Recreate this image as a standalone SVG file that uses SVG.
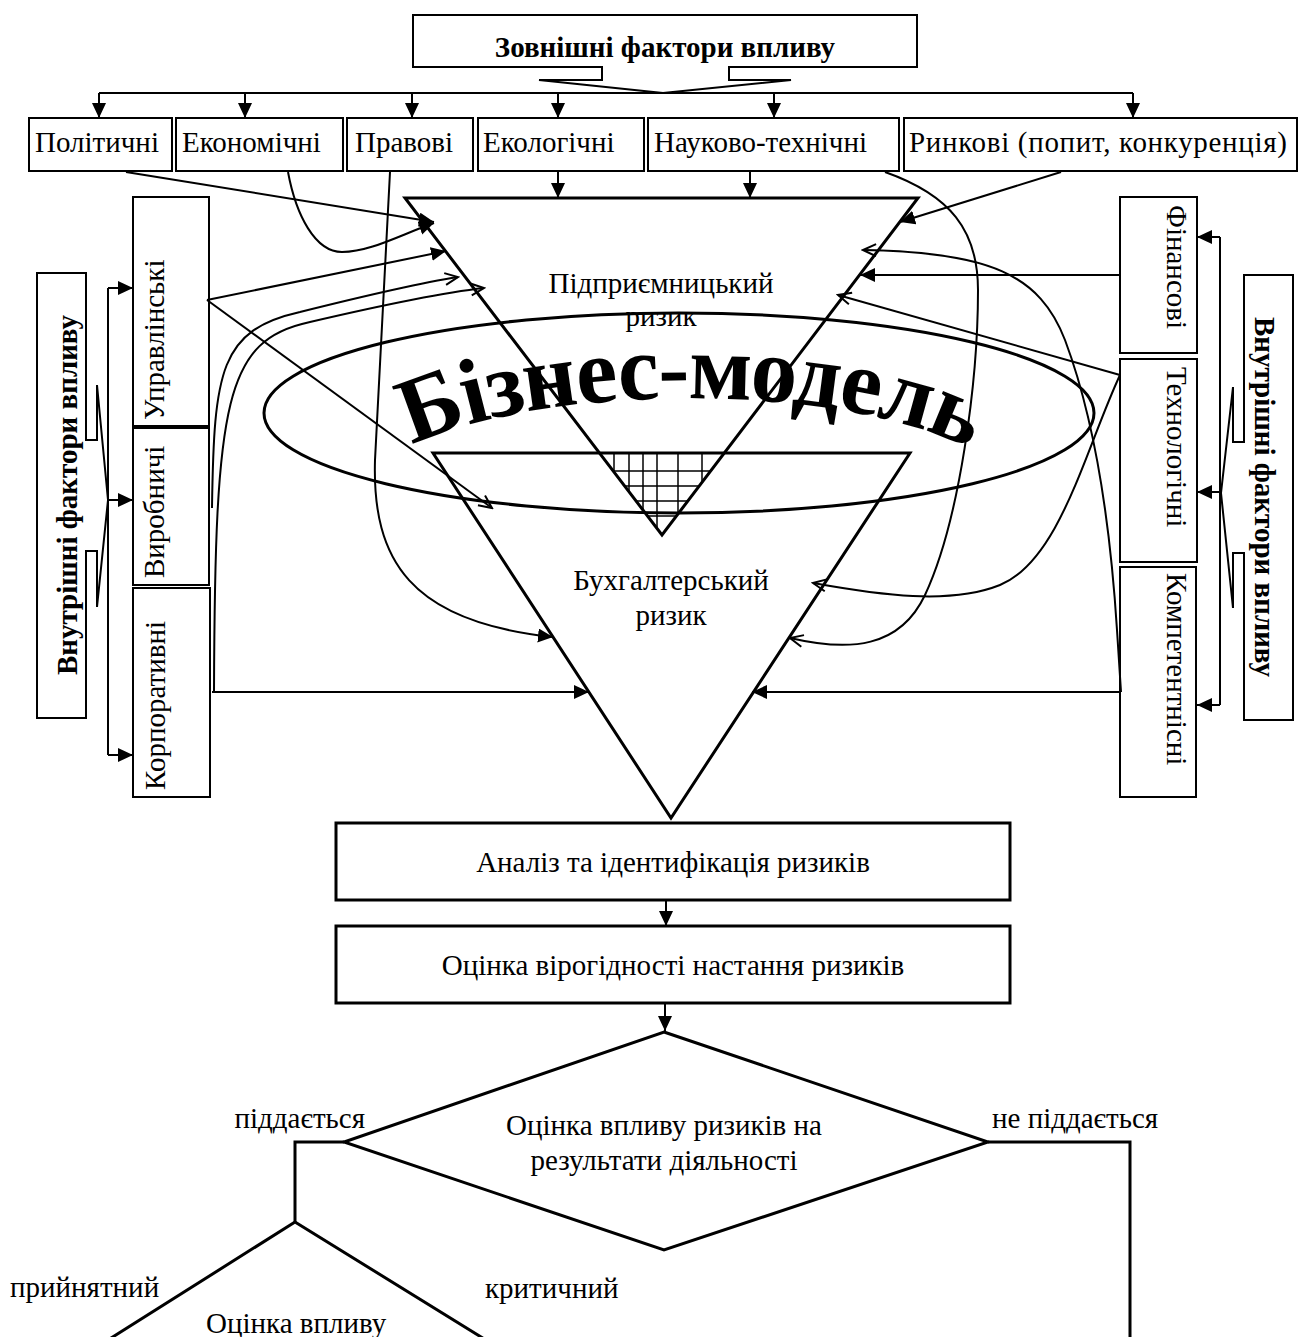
<svg xmlns="http://www.w3.org/2000/svg" width="1301" height="1337" viewBox="0 0 1301 1337">
<defs>
<style>
.t{font-family:"Liberation Serif","Times New Roman",serif;font-size:29px;fill:#000}
.b{font-weight:bold}
.c{text-anchor:middle}
.e{text-anchor:end}
.big{font-size:93px;letter-spacing:-1.5px}
.box{fill:#fff;stroke:#000;stroke-width:2}
.bx3{fill:#fff;stroke:#000;stroke-width:3}
.thick{fill:none;stroke:#000;stroke-width:3}
.ln{fill:none;stroke:#000;stroke-width:2}
.grid{fill:none;stroke:#000;stroke-width:1.5}
.fa{marker-end:url(#fa)}
.oa{marker-end:url(#oa)}
</style>
<marker id="fa" markerUnits="userSpaceOnUse" markerWidth="16" markerHeight="16" refX="15" refY="7" orient="auto"><path d="M0,0 L15,7 L0,14 Z" fill="#000"/></marker>
<marker id="oa" markerUnits="userSpaceOnUse" markerWidth="16" markerHeight="16" refX="14" refY="7" orient="auto"><path d="M1,1 L14,7 L1,13" fill="none" stroke="#000" stroke-width="2"/></marker>
<clipPath id="tip"><polygon points="599.5,453 724,453 662,535"/></clipPath>
<path id="arc" d="M400,452 C515,385 845,375 980,455"/>
</defs>
<rect width="1301" height="1337" fill="#fff"/>

<!-- business model core: ellipse, two risk triangles, hatched overlap -->
<g id="core">
  <ellipse cx="679" cy="413" rx="415" ry="100" class="thick"/>
  <text class="t b big"><textPath href="#arc" startOffset="50%" text-anchor="middle">Бізнес-модель</textPath></text>
  <polygon points="405,198 918,198 662,535" class="thick"/>
  <polygon points="433,453 910,453 671,818" class="thick"/>
  <g clip-path="url(#tip)" class="grid">
    <path d="M614,453V535M629,453V535M643,453V535M657,453V535M678,453V535M702,453V535M590,471H730M590,486H730M590,501H730M590,516H730"/>
  </g>
  <text class="t c" x="661" y="293">Підприємницький</text>
  <text class="t c" x="661" y="326">ризик</text>
  <text class="t c" x="671" y="590">Бухгалтерський</text>
  <text class="t c" x="671" y="625">ризик</text>
</g>

<!-- external factors -->
<g id="external">
  <path d="M413,15 H917 V67 H729 V80 H791 L663,93 L539,80 H602 V67 H413 Z" class="box"/>
  <text class="t b c" x="665" y="57">Зовнішні фактори впливу</text>
</g>
<g id="political"><rect x="29" y="118" width="143" height="53" class="box"/><text class="t" x="35" y="152">Політичні</text></g>
<g id="economic"><rect x="176" y="118" width="167" height="53" class="box"/><text class="t" x="182" y="152">Економічні</text></g>
<g id="legal"><rect x="347" y="118" width="126" height="53" class="box"/><text class="t" x="355" y="152">Правові</text></g>
<g id="ecological"><rect x="478" y="118" width="166" height="53" class="box"/><text class="t" x="483" y="152">Екологічні</text></g>
<g id="scitech"><rect x="648" y="118" width="251" height="53" class="box"/><text class="t" x="654" y="152">Науково-технічні</text></g>
<g id="market"><rect x="904" y="118" width="393" height="53" class="box"/><text class="t" x="909" y="152" textLength="378">Ринкові (попит, конкуренція)</text></g>

<!-- internal factors, left -->
<g id="internal-left">
  <path d="M37,273 H86 V440 H97 V385 L108,500 L97,607 V551 H86 V718 H37 Z" class="box"/>
  <text class="t b c" transform="translate(77,495) rotate(-90)">Внутрішні фактори впливу</text>
</g>
<g id="management"><rect x="133" y="197" width="76" height="229" class="box"/><text class="t" transform="translate(164,420) rotate(-90)">Управлінські</text></g>
<g id="production"><rect x="133" y="428" width="76" height="157" class="box"/><text class="t" transform="translate(164,578) rotate(-90)">Виробничі</text></g>
<g id="corporate"><rect x="133" y="588" width="77" height="209" class="box"/><text class="t" transform="translate(165,790) rotate(-90)">Корпоративні</text></g>

<!-- internal factors, right -->
<g id="internal-right">
  <path d="M1293,275 H1244 V442 H1233 V387 L1221,493 L1233,608 V553 H1244 V720 H1293 Z" class="box"/>
  <text class="t b c" transform="translate(1255,497) rotate(90)">Внутрішні фактори впливу</text>
</g>
<g id="financial"><rect x="1120" y="197" width="77" height="156" class="box"/><text class="t" transform="translate(1167,205) rotate(90)">Фінансові</text></g>
<g id="technological"><rect x="1120" y="359" width="77" height="203" class="box"/><text class="t" transform="translate(1167,367) rotate(90)">Технологічні</text></g>
<g id="competence"><rect x="1120" y="567" width="76" height="230" class="box"/><text class="t" transform="translate(1167,573) rotate(90)">Компетентнісні</text></g>

<!-- process steps -->
<g id="analysis"><rect x="336" y="823" width="674" height="77" class="bx3"/><text class="t c" x="673" y="872">Аналіз та ідентифікація ризиків</text></g>
<g id="probability"><rect x="336" y="926" width="674" height="77" class="bx3"/><text class="t c" x="673" y="975">Оцінка вірогідності настання ризиків</text></g>
<g id="impact"><polygon points="664,1032 988,1142 664,1250 344,1142" class="bx3"/><text class="t c" x="664" y="1135">Оцінка впливу ризиків на</text><text class="t c" x="664" y="1170">результати діяльності</text></g>
<g id="impact2"><path d="M100,1345 L295,1222 L494,1345" class="thick"/><text class="t" x="206" y="1333">Оцінка впливу</text></g>

<g id="connectors">
  <!-- distribution of external factors -->
  <path d="M99,93 H1133" class="ln"/>
  <path d="M99,93V118" class="ln fa"/><path d="M245,93V118" class="ln fa"/><path d="M412,93V118" class="ln fa"/>
  <path d="M558,93V118" class="ln fa"/><path d="M774,93V118" class="ln fa"/><path d="M1133,93V118" class="ln fa"/>
  <path d="M558,171V198" class="ln fa"/>
  <path d="M750,171V198" class="ln fa"/>
  <path d="M126,172 L434,222" class="ln fa"/>
  <path d="M288,172 C296,215 315,252 342,252 C370,252 400,235 434,223" class="ln fa"/>
  <path d="M390,172 L375,460 C372,560 410,622 553,637" class="ln fa"/>
  <path d="M1061,172 L900,222" class="ln fa"/>
  <path d="M885,172 C950,195 978,230 978,290 C978,380 960,520 925,595 C900,648 850,652 790,638" class="ln oa"/>

  <!-- left internal brackets -->
  <path d="M108,288 V755" class="ln"/>
  <path d="M108,288 H133" class="ln fa"/><path d="M108,500 H133" class="ln fa"/><path d="M108,755 H133" class="ln fa"/>
  <path d="M207,300 L446,251" class="ln fa"/>
  <path d="M207,300 L492,508" class="ln oa"/>
  <path d="M212,508 C214,370 220,330 300,312 C360,297 420,283 458,277" class="ln oa"/>
  <path d="M214,692 C215,400 225,340 310,322 C370,308 440,293 484,288" class="ln oa"/>
  <path d="M212,692 H589" class="ln fa"/>

  <!-- right internal brackets -->
  <path d="M1220,237 V705" class="ln"/>
  <path d="M1220,237 H1197" class="ln fa"/><path d="M1220,492 H1197" class="ln fa"/><path d="M1220,705 H1197" class="ln fa"/>
  <path d="M1120,275 H860" class="ln fa"/>
  <path d="M1120,375 L838,295" class="ln oa"/>
  <path d="M1120,375 C1085,450 1060,560 1000,585 C950,605 880,595 813,583" class="ln oa"/>
  <path d="M1121,692 L1117,630 C1110,520 1095,420 1065,340 C1040,275 990,252 863,250" class="ln oa"/>
  <path d="M1120,692 H752" class="ln fa"/>

  <!-- process flow -->
  <path d="M666,900 V926" class="ln fa"/>
  <path d="M665,1003 V1031" class="ln fa"/>
  <path d="M344,1142 H295 V1222" class="thick"/>
  <path d="M988,1142 H1130 V1345" class="thick"/>
  <text class="t e" x="365" y="1128">піддається</text>
  <text class="t" x="992" y="1128">не піддається</text>
  <text class="t" x="10" y="1297">прийнятний</text>
  <text class="t" x="485" y="1298">критичний</text>
</g>
</svg>
